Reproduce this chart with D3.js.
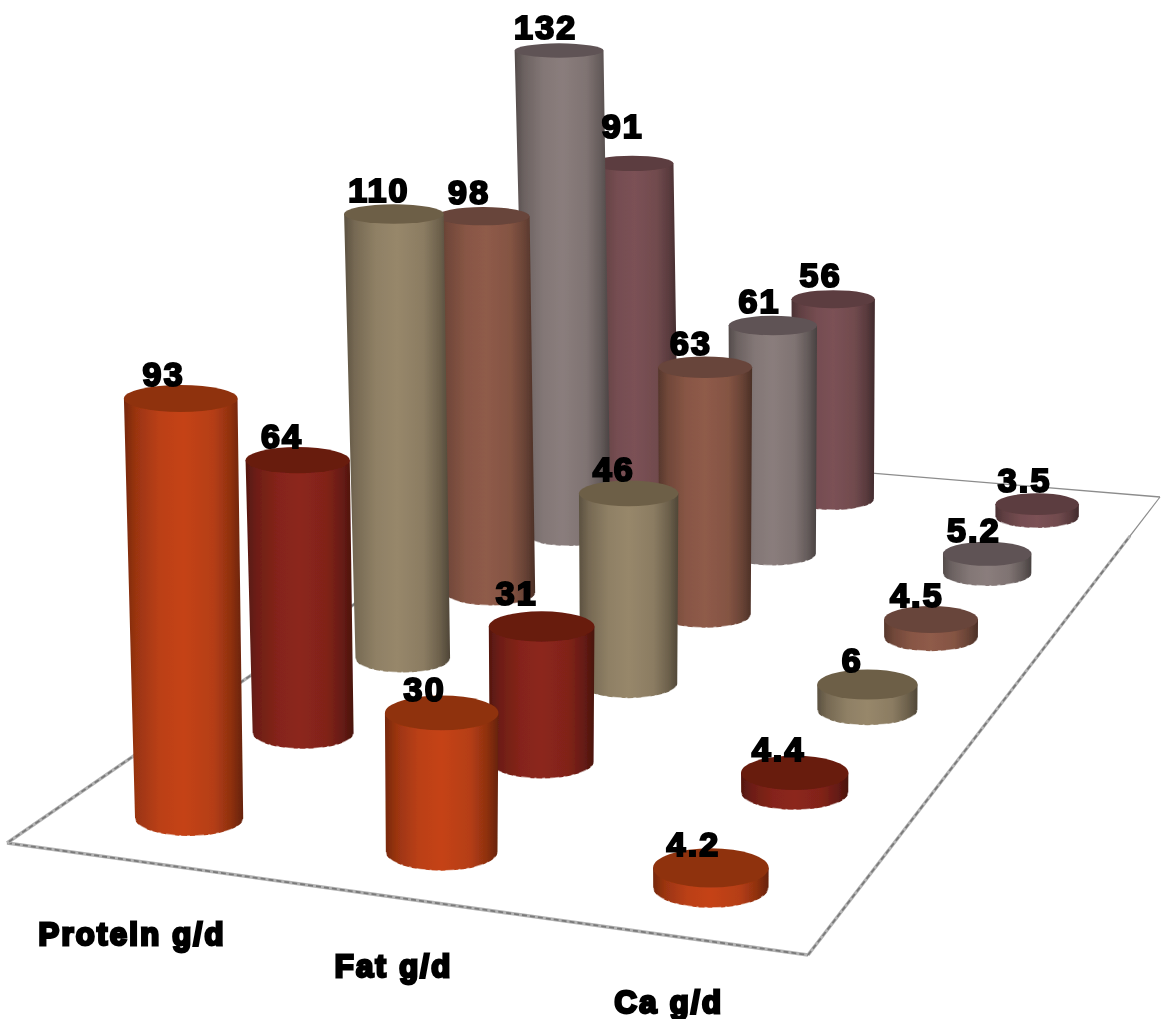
<!DOCTYPE html>
<html>
<head>
<meta charset="utf-8">
<script src="https://cdn.jsdelivr.net/npm/d3@7"></script>
<style>
  html, body { margin: 0; padding: 0; background: #fff; }
  svg { display: block; }
  text { font-family: "Liberation Sans", Arial, sans-serif; font-weight: bold; fill: #000; stroke: #000; paint-order: stroke; }
</style>
</head>
<body>
<script>
var categories = ["Protein g/d", "Fat g/d", "Ca g/d"];
var groups = [0, 1, 2, 3, 4, 5];
var proteinValues = [93, 64, 110, 98, 132, 91];
var fatValues = [30, 31, 46, 63, 61, 56];
var caValues = [4.2, 4.4, 6, 4.5, 5.2, 3.5];
var sideColors = ["#c54316", "#8c261b", "#97876a", "#8f5b49", "#8a7d7c", "#7b5155"];
var topColors = ["#8f3310", "#681b10", "#6d5f47", "#68443a", "#5f5355", "#5c3c3f"];

var width = 1163, height = 1019;

var svg = d3.select("body").append("svg")
  .attr("width", width)
  .attr("height", height);

// floor corners on screen: front left, front right, back right, back left
var A = [7, 843], B = [808, 955], C = [1160, 497], D = [580, 449];

var floorProject = (function() {
  var dx1 = B[0] - C[0], dx2 = D[0] - C[0], sx = A[0] - B[0] + C[0] - D[0];
  var dy1 = B[1] - C[1], dy2 = D[1] - C[1], sy = A[1] - B[1] + C[1] - D[1];
  var den = dx1 * dy2 - dx2 * dy1;
  var g = (sx * dy2 - dx2 * sy) / den;
  var h = (dx1 * sy - sx * dy1) / den;
  var a = B[0] - A[0] + g * B[0], b = D[0] - A[0] + h * D[0];
  var d = B[1] - A[1] + g * B[1], e = D[1] - A[1] + h * D[1];
  return function(u, v) {
    var w = 1 + g * u + h * v;
    return { x: (a * u + b * v + A[0]) / w, y: (d * u + e * v + A[1]) / w, w: w };
  };
})();

var colScale = d3.scalePoint().domain(categories).range([0.17, 0.84]);
var rowScale = d3.scalePoint().domain(groups).range([0.075, 0.91]);
var valueScale = d3.scaleLinear().domain([0, 132]).range([0, 604]);
var flatScale = d3.scaleLinear().domain([46, 863]).range([0.16, 0.34]);
// only the left column leans, the others stand straight
var columnLean = [0.02, 0, 0];

var defs = svg.append("defs");

// the source picture is a soft, resampled image
defs.append("filter").attr("id", "soft")
  .attr("x", 0).attr("y", 0).attr("width", 1).attr("height", 1)
  .attr("filterUnits", "userSpaceOnUse")
  .attr("width", width).attr("height", height)
  .append("feGaussianBlur").attr("stdDeviation", 0.6);

// one horizontal gradient per colour
sideColors.forEach(function(c, i) {
  var grad = defs.append("linearGradient").attr("id", "side" + i);
  var stops = [[0, 0.6], [0.1, 0.78], [0.3, 0.95], [0.5, 1], [0.75, 0.92], [0.9, 0.72], [1, 0.52]];
  stops.forEach(function(s) {
    grad.append("stop")
      .attr("offset", s[0])
      .attr("stop-color", d3.rgb(c).darker(-Math.log(s[1]) / Math.log(1 / 0.7)));
  });
});

var chart = svg.append("g").attr("filter", "url(#soft)");

function tapered(p, q, wp, wq) {
  var dx = q[0] - p[0], dy = q[1] - p[1], len = Math.sqrt(dx * dx + dy * dy);
  var nx = -dy / len / 2, ny = dx / len / 2;
  return "M" + (p[0] + nx * wp) + "," + (p[1] + ny * wp) +
    "L" + (q[0] + nx * wq) + "," + (q[1] + ny * wq) +
    "L" + (q[0] - nx * wq) + "," + (q[1] - ny * wq) +
    "L" + (p[0] - nx * wp) + "," + (p[1] - ny * wp) + "Z";
}

// floor outline: thick speckled line at the front, hairline at the back
var floor = chart.append("g");
var rightBreak = d3.interpolateArray(B, C)(0.915);
[[A, B, 3.5, 3.5, true], [B, rightBreak, 3.5, 3, true], [rightBreak, C, 1.3, 1.1, false],
 [C, D, 1.3, 1.3, false], [D, A, 3, 3.5, true]].forEach(function(e) {
  floor.append("path")
    .attr("d", tapered(e[0], e[1], e[2], e[3]))
    .attr("fill", e[4] ? "#b4b4b4" : "#8c8c8c");
  if (e[4]) {
    floor.append("line")
      .attr("x1", e[0][0]).attr("y1", e[0][1])
      .attr("x2", e[1][0]).attr("y2", e[1][1])
      .attr("stroke", "#7a7a7a")
      .attr("stroke-width", 1.8)
      .attr("stroke-dasharray", "5 3");
  }
});

var bars = [];
[proteinValues, fatValues, caValues].forEach(function(vals, c) {
  vals.forEach(function(v, r) {
    var base = floorProject(colScale(categories[c]), rowScale(groups[r]));
    var h = valueScale(v) / Math.pow(base.w, 0.82);
    var rb = 55 / base.w;
    var rt = rb * (1 + h * 0.00012);
    bars.push({
      value: v, color: r,
      xb: base.x, yb: base.y, rb: rb, ryb: rb * flatScale(base.y),
      xt: base.x - h * columnLean[c], yt: base.y - h, rt: rt,
      ryt: rt * flatScale(base.y - h)
    });
  });
});
bars.sort(function(a, b) { return a.yb - b.yb; });

var bar = chart.selectAll(".bar").data(bars).enter().append("g").attr("class", "bar");

function sidePath(d) {
  return "M" + (d.xt - d.rt) + "," + d.yt +
    "L" + (d.xb - d.rb) + "," + d.yb +
    "A" + d.rb + "," + d.ryb + " 0 0 0 " + (d.xb + d.rb) + "," + d.yb +
    "L" + (d.xt + d.rt) + "," + d.yt + "Z";
}

bar.append("path")
  .attr("d", sidePath)
  .attr("fill", function(d) { return "url(#side" + d.color + ")"; });

// pale speckled rim along the bottom edge
bar.append("path")
  .attr("d", function(d) {
    return "M" + (d.xb - d.rb) + "," + d.yb +
      "A" + d.rb + "," + d.ryb + " 0 0 0 " + (d.xb + d.rb) + "," + d.yb;
  })
  .attr("fill", "none")
  .attr("stroke", "#fff")
  .attr("stroke-opacity", 0.55)
  .attr("stroke-width", 1.5)
  .attr("stroke-dasharray", "3 5 9 4 2 6");

bar.append("ellipse")
  .attr("cx", function(d) { return d.xt; })
  .attr("cy", function(d) { return d.yt; })
  .attr("rx", function(d) { return d.rt; })
  .attr("ry", function(d) { return d.ryt; })
  .attr("fill", function(d) { return topColors[d.color]; });

// a couple of labels were moved by hand in the original
var labelNudge = { 91: [3, -13], 31: [-9, -10] };
function nudge(d, i) { return labelNudge[d.value] ? labelNudge[d.value][i] : 0; }

chart.selectAll(".value").data(bars).enter().append("text")
  .attr("class", "value")
  .attr("x", function(d) { return d.xt - d.rt * 0.3 + nudge(d, 0); })
  .attr("y", function(d) { return d.yt - 12 + nudge(d, 1); })
  .attr("text-anchor", "middle")
  .attr("font-size", 34)
  .attr("stroke-width", 2.2)
  .attr("letter-spacing", 2.2)
  .text(function(d) { return d.value; });

// category names sit under the front row
var categoryDx = [-57, -48, -42];
var categoryDy = [127, 125, 125];
chart.selectAll(".cat").data(categories).enter().append("text")
  .attr("class", "cat")
  .attr("x", function(d, i) { return floorProject(colScale(d), rowScale(0)).x + categoryDx[i]; })
  .attr("y", function(d, i) { return floorProject(colScale(d), rowScale(0)).y + categoryDy[i]; })
  .attr("text-anchor", "middle")
  .attr("font-size", 31)
  .attr("stroke-width", 2.8)
  .attr("letter-spacing", 2.3)
  .text(function(d) { return d; });
</script>
</body>
</html>
